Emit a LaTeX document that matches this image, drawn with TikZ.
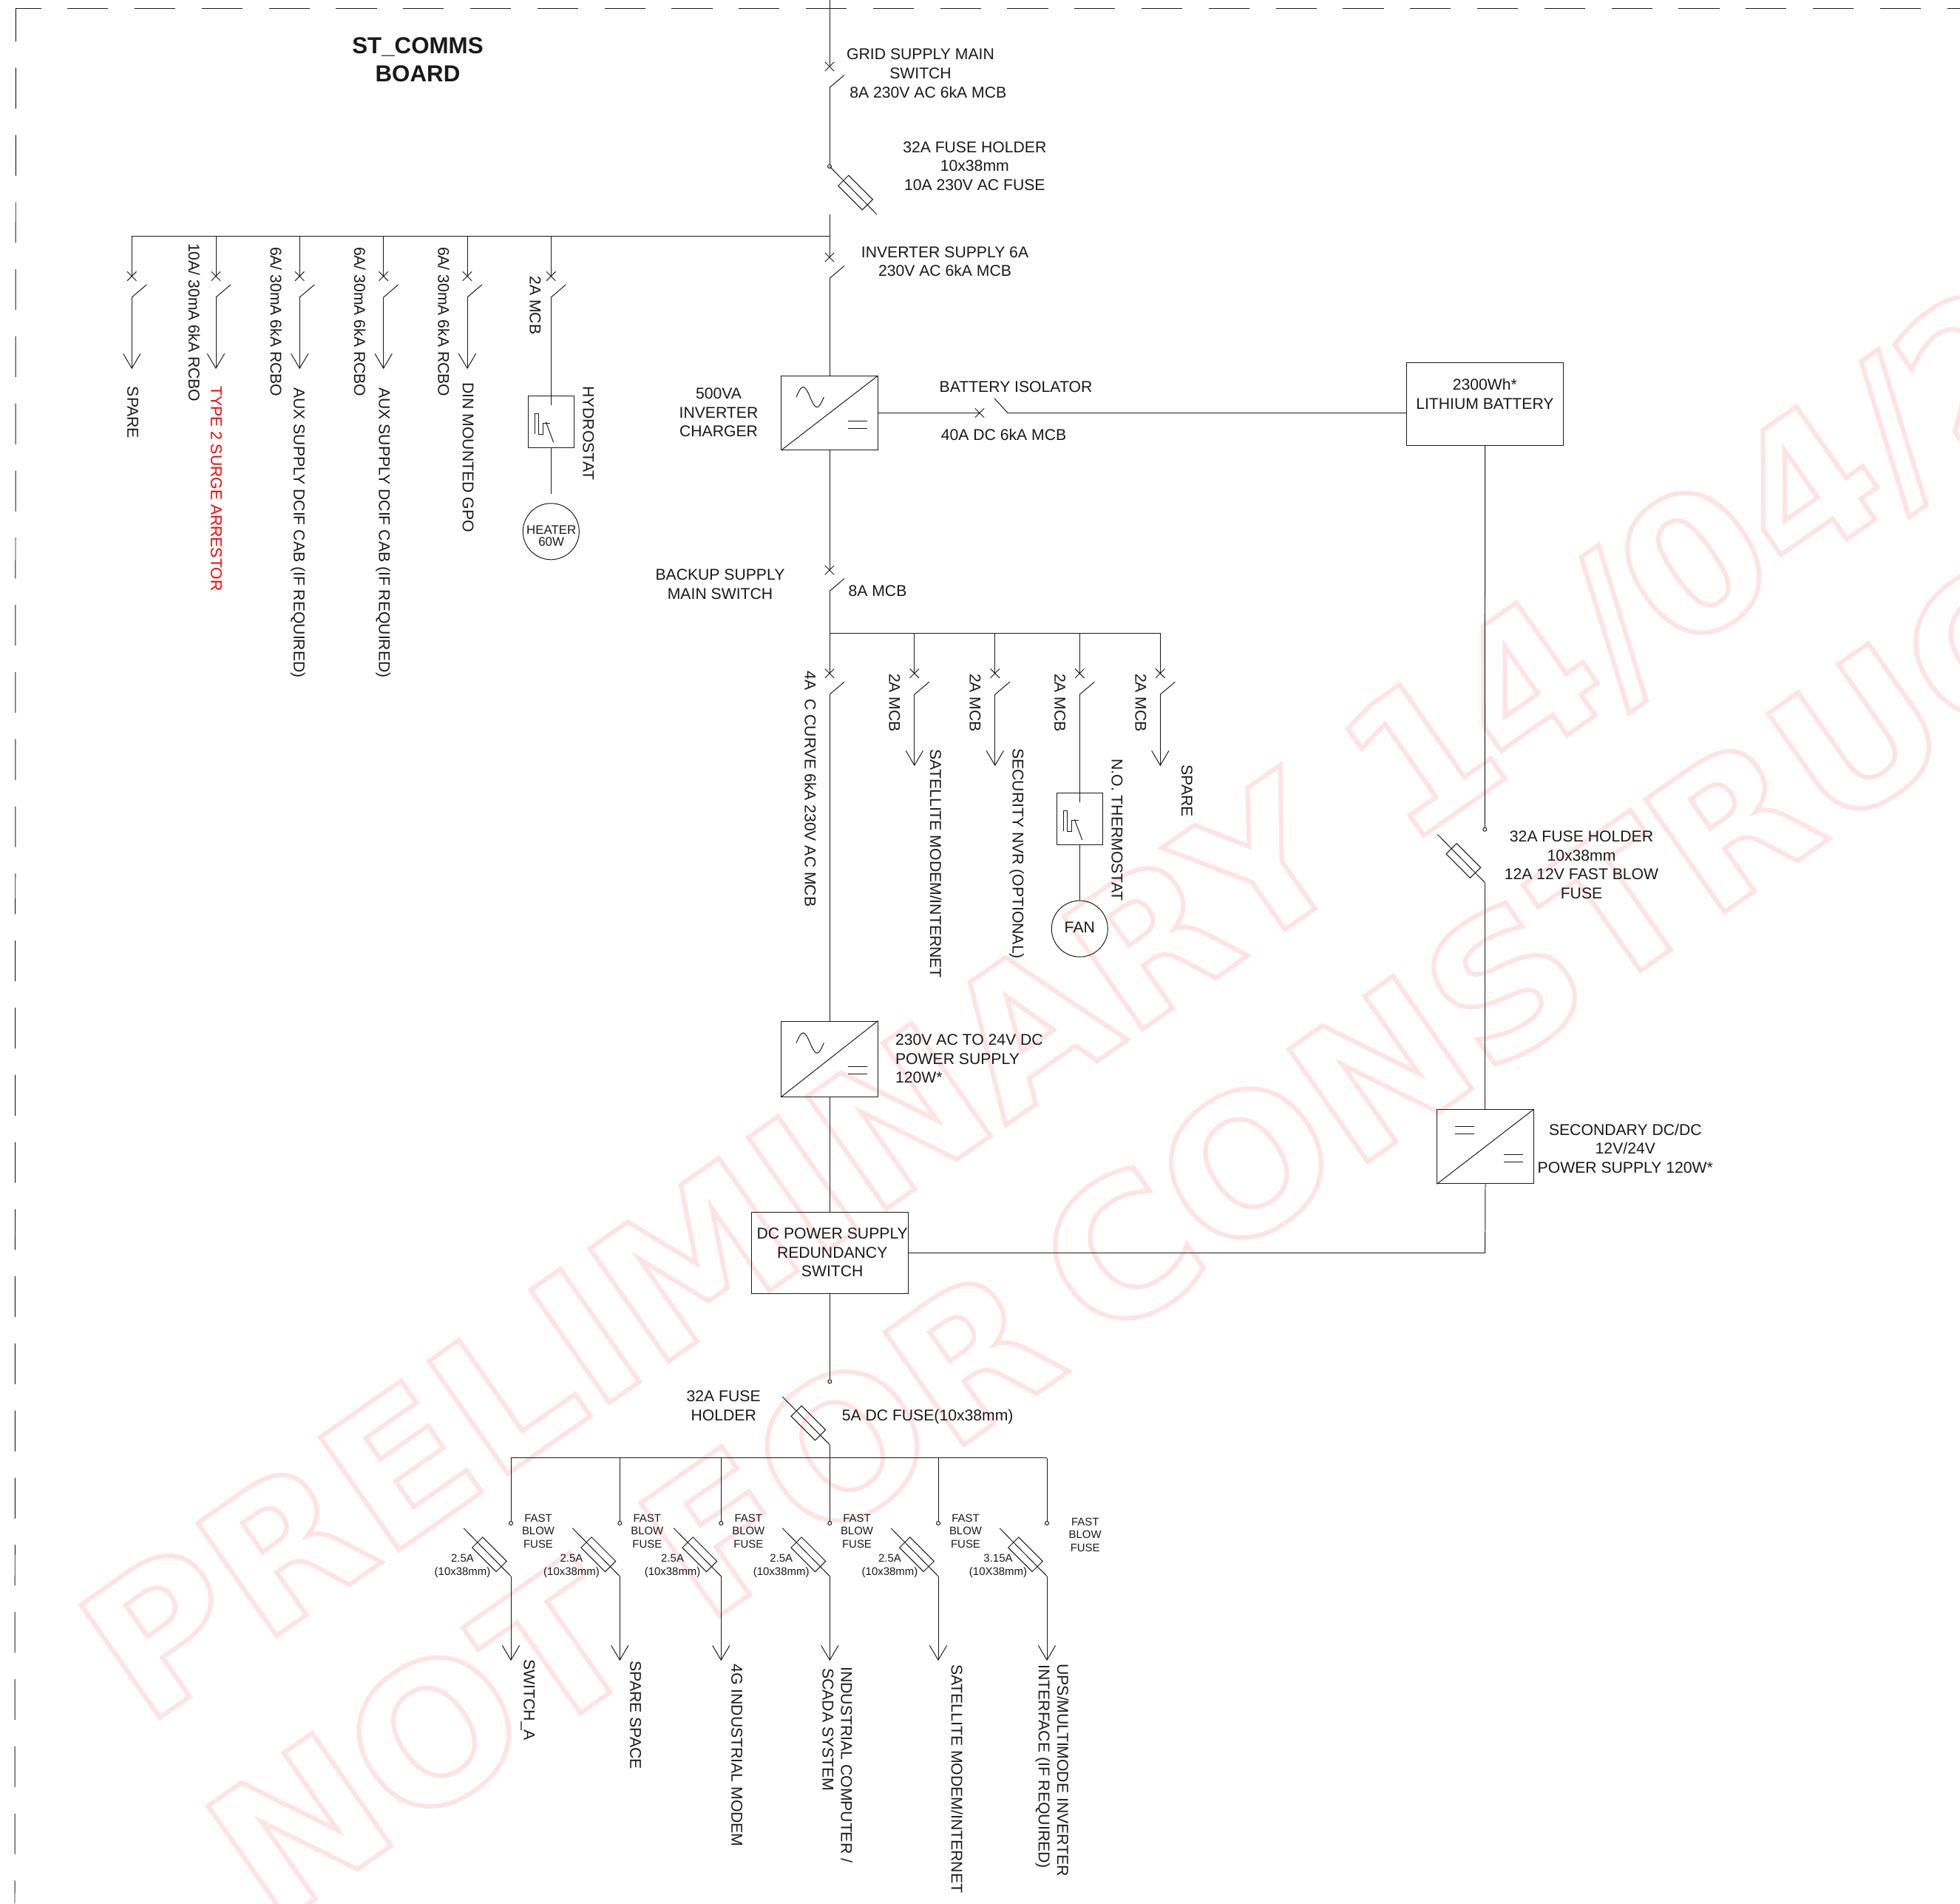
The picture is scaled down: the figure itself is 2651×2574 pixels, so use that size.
\documentclass[tikz,border=0pt]{standalone}
\usepackage{fontspec}
\setmainfont{Liberation Sans}
\newfontface\WmFace{DejaVu Sans Bold}
\usetikzlibrary{arrows.meta,positioning}
\newcommand{\TxtFont}{\fontsize{6.02}{7.25}\selectfont}
\newcommand{\SmallFont}{\fontsize{4.25}{5}\selectfont}
\newcommand{\HeatFont}{\fontsize{4.8}{4.6}\selectfont}
\newcommand{\TitleFont}{\fontsize{8.9}{10.8}\selectfont\bfseries}
\newcommand{\WmFont}{\WmFace\fontsize{72.6}{74}\selectfont}
\makeatletter
\newcommand{\OutlineOn}{\pgfsys@invoke{1 Tr 1.7 w 1 0.89 0.89 RG}}
\makeatother
\tikzset{
	txt/.style={font=\TxtFont, inner sep=0pt, align=center},
	txtl/.style={font=\TxtFont, inner sep=0pt, align=left, anchor=west},
	small/.style={font=\SmallFont, inner sep=0pt, align=center},
	vtxt/.style={font=\TxtFont, inner sep=0pt, rotate=-90, anchor=west, text height=0.15cm, text depth=0pt},
	wmark/.style={font=\WmFont, inner sep=0pt, anchor=base west, transform shape, rotate=35, xscale=1.03},
	dot/.style={draw, circle, fill=white, inner sep=0pt, minimum size=0.05cm},
	conv/.style={draw, inner sep=0pt, minimum width=1.3cm, minimum height=1cm},
	statbox/.style={draw, inner sep=0pt, minimum width=0.62cm, minimum height=0.7cm},
	load/.style={draw, circle, inner sep=0pt, minimum size=0.76cm},
	feed/.style={-{Straight Barb[length=5.6pt,width=6.6pt]}},
	mcb/.pic={
		\coordinate (-in) at (0,0);
		\coordinate (-out) at (0,28.5);
		\draw (-6.2,-6.2) -- (6.2,6.2) (-6.2,6.2) -- (6.2,-6.2);
		\draw (0,28.5) -- (20,11.5);
	},
	iso/.pic={
		\coordinate (-in) at (0,0);
		\coordinate (-out) at (38,0);
		\draw (-6.2,-6.2) -- (6.2,6.2) (-6.2,6.2) -- (6.2,-6.2);
		\draw (38,0) -- (20,-19.7);
	},
	fuse/.pic={
		\coordinate (-in) at (0,0);
		\coordinate (-out) at (64,65);
		\draw (0,0) -- (64,65);
		\draw[shift={(35,35.5)},rotate=-45] (-23,-10) rectangle (23,10);
	},
	wave/.pic={
		\draw (-45,-21.5) sin (-35.7,-35.2) cos (-26.4,-21.5) sin (-17,-7.8) cos (-7.7,-21.5);
	},
	dcmark/.pic={
		\draw (0,0) -- (26,0) (0,10) -- (26,10);
	},
	stat/.pic={
		\coordinate (-in) at (0,-22.5);
		\draw (-22,16.7) -- (-22,-11) -- (-16.6,-11) -- (-16.6,17.3) -- (-11,17.3) -- (-11,2.3) -- (-1.3,2.3);
		\draw (-6.6,1.7) -- (3.4,28.3);
		\fill (-6.6,1.7) circle (1);
	},
}

\begin{document}
\begin{tikzpicture}[x=0.01cm, y=-0.01cm, line width=0.28pt, black!90]
		\useasboundingbox (0,0) rectangle (2651,2574);

		% Watermark
		\begin{scope}
		\clip (0,0) rectangle (2651,2574);
		\node[wmark] (wmone) at (196,2337) {\OutlineOn PRELIMINARY};
		\node[wmark] (wmdate) at (1900,1148) {\OutlineOn 1\kern-0.12cm 4/04/2};
		\node[wmark] (wmtwo) at (368,2609) {\OutlineOn NOT FOR\kern-0.42cm\ CONSTRUC};
		\end{scope}

		% Sheet edge
		\coordinate (edgec) at (21.4,11);
		\coordinate (edger) at (2651,11);
		\coordinate (edgeb) at (20,2574);
		\draw[dash pattern=on 15.65pt off 10.17pt, dash phase=5.95pt] (edgec) -- (edger);
		\draw[dash pattern=on 15.65pt off 10.17pt, dash phase=2.87pt] (edgec) -- (edgeb);

		\node[font=\TitleFont, inner sep=0pt, align=center] (title) at (565,81) {ST\_COMMS\\BOARD};

		% Define nodes
		\coordinate (top) at (1122,0);
		\pic (qgrid) at (1122,90) {mcb};
		\node[dot] (dgrid) at (1122,225) {};
		\pic (fgrid) at (1122,225) {fuse};
		\coordinate (mainup) at (1122,289.5);
		\coordinate (busa) at (1122,319);
		\coordinate (busaend) at (178.3,319);
		\pic (qinv) at (1122,348) {mcb};
		\node[conv] (inv) at (1122,558.5) {};
		\pic at (1122,558.5) {wave};
		\pic at (1147,569) {dcmark};
		\pic (qiso) at (1325,558.5) {iso};
		\node[draw, inner sep=0pt, minimum width=2.12cm, minimum height=1.11cm] (bat) at (2008.6,546.5) {};
		\coordinate (batin) at (1902.6,558.5);
		\pic (qbak) at (1122,771) {mcb};
		\coordinate (busm) at (1122,856);
		\coordinate (busmend) at (1569.3,856);

		% Upper feeders
		\pic (qa) at (178.3,373.5) {mcb};
		\coordinate (tipa) at (178.3,499);
		\pic (qb) at (292,373.5) {mcb};
		\coordinate (tipb) at (292,499);
		\pic (qc) at (405.3,373.5) {mcb};
		\coordinate (tipc) at (405.3,499);
		\pic (qd) at (518.7,373.5) {mcb};
		\coordinate (tipd) at (518.7,499);
		\pic (qe) at (632,373.5) {mcb};
		\coordinate (tipe) at (632,499);
		\pic (qf) at (745.3,373.5) {mcb};
		\node[statbox] (hydro) at (745.3,570) {};
		\pic (hs) at (745.3,570) {stat};
		\coordinate[below=0.627cm of hydro] (heatlead);
		\node[load, below=0.12cm of heatlead] (heater) {};

		% Middle feeders
		\pic (qm) at (1122,910.7) {mcb};
		\pic (qn) at (1236.8,910.7) {mcb};
		\coordinate (tipn) at (1236.8,1036);
		\pic (qo) at (1345.8,910.7) {mcb};
		\coordinate (tipo) at (1345.8,1036);
		\pic (qp) at (1460.3,910.7) {mcb};
		\node[statbox] (thermo) at (1460.3,1107.5) {};
		\pic (ts) at (1460.3,1107.5) {stat};
		\node[load, below=0.745cm of thermo, font=\TxtFont, text height=0.15cm, text depth=0.04cm] (fan) {FAN};
		\pic (qq) at (1569.3,910.7) {mcb};
		\coordinate (tipq) at (1569.3,1036);

		\node[conv, minimum height=1.02cm] (psu) at (1122,1432) {};
		\pic at (1122,1432) {wave};
		\pic at (1147,1442.5) {dcmark};

		% Battery side
		\node[dot] (dbat) at (2008.3,1121.7) {};
		\pic (fbat) at (1944.3,1128.5) {fuse};
		\node[conv] (dcdc) at (2009,1550.7) {};
		\pic at (1967.7,1523) {dcmark};
		\pic at (2034,1561.3) {dcmark};
		\coordinate (dcleg) at (2008.6,1694);

		\node[draw, inner sep=0pt, minimum width=2.116cm, minimum height=1.1cm] (rds) at (1122.5,1694) {};
		\node[dot] (drds) at (1122.3,1868.3) {};
		\pic (frds) at (1058.3,1889) {fuse};

		% Lower feeders
		\coordinate (busb) at (691,1971.7);
		\coordinate (busbend) at (1416,1971.7);
		\node[dot] (da) at (691,2060) {};
		\pic (fa) at (627,2066.7) {fuse};
		\coordinate (enda) at (691,2246);
		\node[dot] (db) at (838.3,2060) {};
		\pic (fb) at (774.3,2066.7) {fuse};
		\coordinate (endb) at (838.3,2246);
		\node[dot] (dc) at (975.3,2060) {};
		\pic (fc) at (911.3,2066.7) {fuse};
		\coordinate (endc) at (975.3,2246);
		\node[dot] (dd) at (1122.3,2060) {};
		\pic (fd) at (1058.3,2066.7) {fuse};
		\coordinate (endd) at (1122.3,2246);
		\node[dot] (de) at (1269,2060) {};
		\pic (fe) at (1205,2066.7) {fuse};
		\coordinate (ende) at (1269,2246);
		\node[dot] (dg) at (1416,2060) {};
		\pic (fg) at (1352,2066.7) {fuse};
		\coordinate (endg) at (1416,2246);

		% Connect the nodes
		\draw (top) -- (qgrid-in);
		\draw (qgrid-out) -- (dgrid);
		\draw (mainup) -- (qinv-in);
		\draw (qinv-out) -- (inv.north);
		\draw (inv.south west) -- (inv.north east);
		\draw (inv.east) -- (qiso-in);
		\draw (qiso-out) -- (batin);
		\draw (inv.south) -- (qbak-in);
		\draw (qbak-out) -- (qm-in);
		\draw (busm) -- (busmend);
		\draw (busa) -- (busaend);

		\draw (qa-in |- busa) -- (qa-in);
		\draw[feed] (qa-out) -- (tipa);
		\draw (qb-in |- busa) -- (qb-in);
		\draw[feed] (qb-out) -- (tipb);
		\draw (qc-in |- busa) -- (qc-in);
		\draw[feed] (qc-out) -- (tipc);
		\draw (qd-in |- busa) -- (qd-in);
		\draw[feed] (qd-out) -- (tipd);
		\draw (qe-in |- busa) -- (qe-in);
		\draw[feed] (qe-out) -- (tipe);
		\draw (qf-in |- busa) -- (qf-in);
		\draw (qf-out) -- (hs-in);
		\draw (hydro.south) -- (heatlead);

		\draw (qn-in |- busm) -- (qn-in);
		\draw[feed] (qn-out) -- (tipn);
		\draw (qo-in |- busm) -- (qo-in);
		\draw[feed] (qo-out) -- (tipo);
		\draw (qp-in |- busm) -- (qp-in);
		\draw (qp-out) -- (ts-in);
		\draw (thermo.south) -- (fan.north);
		\draw (qq-in |- busm) -- (qq-in);
		\draw[feed] (qq-out) -- (tipq);

		\draw (qm-out) -- (psu.north);
		\draw (psu.south west) -- (psu.north east);
		\draw (psu.south) -- (rds.north -| psu.south);
		\draw (rds.south -| drds) -- (drds);

		\draw (bat.south) -- (dbat);
		\draw (fbat-out) -- (fbat-out |- dcdc.north);
		\draw (dcdc.south west) -- (dcdc.north east);
		\draw (dcdc.south) -- (dcleg);
		\draw (rds.east) -- (dcleg);

		\draw (frds-out) -- (dd);
		\draw (busb) -- (busbend);
		\draw (busb) -- (da);
		\draw[feed] (fa-out) -- (enda);
		\draw (db |- busb) -- (db);
		\draw[feed] (fb-out) -- (endb);
		\draw (dc |- busb) -- (dc);
		\draw[feed] (fc-out) -- (endc);
		\draw[feed] (fd-out) -- (endd);
		\draw (de |- busb) -- (de);
		\draw[feed] (fe-out) -- (ende);
		\draw (busbend) -- (dg);
		\draw[feed] (fg-out) -- (endg);

		% Labels
		\node[txt] (lgrid) at (1245,86.3) {GRID SUPPLY MAIN\\SWITCH};
		\node[txt] (lgridb) at (1255.3,125) {8A 230V AC 6kA MCB};
		\node[txt] (lfgrid) at (1318.3,224.5) {32A FUSE HOLDER\\10x38mm\\10A 230V AC FUSE};
		\node[txt] (linv) at (1278,353.5) {INVERTER SUPPLY 6A\\230V AC 6kA MCB};
		\node[txt] (lchg) at (972,558) {500VA\\INVERTER\\CHARGER};
		\node[txt] (liso) at (1374,523.3) {BATTERY ISOLATOR};
		\node[txt] (lisob) at (1357.5,587.7) {40A DC 6kA MCB};
		\node[txt] (lbat) at (2008.4,533) {2300Wh*\\LITHIUM BATTERY};
		\node[txt] (lbak) at (974,790) {BACKUP SUPPLY\\MAIN SWITCH};
		\node[txt] (lbakb) at (1187,799) {8A MCB};

		\node[vtxt] (va) at (180,522.4) {SPARE};
		\node[vtxt] (vb) at (262.7,328.6) {10A/ 30mA 6kA RCBO};
		\node[vtxt, text=red] (vc) at (293,521.6) {TYPE 2 SURGE ARRESTOR};
		\node[vtxt] (vd) at (373.3,333.5) {6A/ 30mA 6kA RCBO};
		\node[vtxt] (ve) at (405,523.7) {AUX SUPPLY DCIF CAB (IF REQUIRED)};
		\node[vtxt] (vf) at (486.7,333.5) {6A/ 30mA 6kA RCBO};
		\node[vtxt] (vg) at (520,523.7) {AUX SUPPLY DCIF CAB (IF REQUIRED)};
		\node[vtxt] (vh) at (600,333.5) {6A/ 30mA 6kA RCBO};
		\node[vtxt] (vi) at (633.3,517) {DIN MOUNTED GPO};
		\node[vtxt] (vj) at (724,373) {2A MCB};
		\node[vtxt] (vk) at (796,521.7) {HYDROSTAT};
		\node[font=\HeatFont, inner sep=0pt, align=center] (lheat) at (745.7,725) {HEATER\\60W};

		\node[vtxt] (vm) at (1096,907.3) {4A\ \ C CURVE 6kA 230V AC MCB};
		\node[vtxt] (vn) at (1210,910.7) {2A MCB};
		\node[vtxt] (vo) at (1265.5,1013.3) {SATELLITE MODEM/INTERNET};
		\node[vtxt] (vp) at (1319,910.7) {2A MCB};
		\node[vtxt] (vq) at (1377,1011.7) {SECURITY NVR (OPTIONAL)};
		\node[vtxt] (vr) at (1433.8,910.7) {2A MCB};
		\node[vtxt] (vs) at (1511,1026) {N.O. THERMOSTAT};
		\node[vtxt] (vt) at (1543,910.7) {2A MCB};
		\node[vtxt] (vu) at (1605.7,1034) {SPARE};

		\node[txtl] (lpsu) at (1210.6,1432) {230V AC TO 24V DC\\POWER SUPPLY\\120W*};
		\node[txt] (lfbat) at (2139,1169.5) {32A FUSE HOLDER\\10x38mm\\12A 12V FAST BLOW\\FUSE};
		\node[txt] (ldcdc) at (2198.3,1553) {SECONDARY DC/DC\\12V/24V\\POWER SUPPLY 120W*};
		\node[txt] (lrds) at (1125.7,1694) {DC POWER SUPPLY\\REDUNDANCY\\SWITCH};
		\node[txt] (lfrds) at (978.7,1901) {32A FUSE\\HOLDER};
		\node[txtl] (lfrdsb) at (1138.3,1916) {5A DC FUSE(10x38mm)};

		\node[small] (fba) at (728,2070.7) {FAST\\BLOW\\FUSE};
		\node[small] (fbb) at (875.3,2070.7) {FAST\\BLOW\\FUSE};
		\node[small] (fbc) at (1012.3,2070.7) {FAST\\BLOW\\FUSE};
		\node[small] (fbd) at (1159,2070.7) {FAST\\BLOW\\FUSE};
		\node[small] (fbe) at (1306,2070.7) {FAST\\BLOW\\FUSE};
		\node[small] (fbg) at (1467.7,2075.5) {FAST\\BLOW\\FUSE};
		\node[small] (ama) at (625.5,2118) {2.5A\\(10x38mm)};
		\node[small] (amb) at (773,2118) {2.5A\\(10x38mm)};
		\node[small] (amc) at (909.6,2118) {2.5A\\(10x38mm)};
		\node[small] (amd) at (1056.7,2118) {2.5A\\(10x38mm)};
		\node[small] (ame) at (1203.5,2118) {2.5A\\(10x38mm)};
		\node[small] (amg) at (1350,2118) {3.15A\\(10X38mm)};

		\node[vtxt] (wa) at (716,2244) {SWITCH\_A};
		\node[vtxt] (wb) at (859.8,2246) {SPARE SPACE};
		\node[vtxt] (wc) at (996.8,2250) {4G INDUSTRIAL MODEM};
		\node[vtxt] (wd) at (1145,2254) {INDUSTRIAL COMPUTER /};
		\node[vtxt] (we) at (1120,2255.7) {SCADA SYSTEM};
		\node[vtxt] (wf) at (1294.3,2250.7) {SATELLITE MODEM/INTERNET};
		\node[vtxt] (wg) at (1437.7,2250) {UPS/MULTIMODE INVERTER};
		\node[vtxt] (wh) at (1412.3,2251) {INTERFACE (IF REQUIRED)};
	\end{tikzpicture}
\end{document}
